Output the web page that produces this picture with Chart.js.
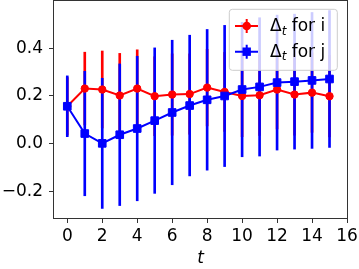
<!DOCTYPE html>
<html>
<head>
<meta charset="utf-8">
<script src="https://cdn.jsdelivr.net/npm/chart.js@4.4.0/dist/chart.umd.min.js"></script>
<style>
  html, body { margin: 0; padding: 0; background: #fff; }
  #wrap { width: 359px; height: 269px; }
</style>
</head>
<body>
<div id="wrap"><canvas id="chart" width="359" height="269"></canvas></div>
<script>
const steps = [0, 1, 2, 3, 4, 5, 6, 7, 8, 9, 10, 11, 12, 13, 14, 15];
const deltaI = [0.157, 0.231, 0.227, 0.202, 0.231, 0.199, 0.206, 0.208, 0.235, 0.217, 0.200, 0.203, 0.227, 0.206, 0.214, 0.199];
const errI = [0.120, 0.152, 0.161, 0.176, 0.162, 0.165, 0.170, 0.168, 0.160, 0.165, 0.170, 0.168, 0.165, 0.170, 0.166, 0.170];
const deltaJ = [0.157, 0.043, 0.002, 0.038, 0.064, 0.097, 0.131, 0.160, 0.184, 0.200, 0.227, 0.238, 0.256, 0.260, 0.265, 0.271];
const errJ = [0.127, 0.260, 0.272, 0.296, 0.302, 0.304, 0.302, 0.294, 0.294, 0.295, 0.281, 0.289, 0.282, 0.282, 0.284, 0.286];
const xTicks = [0, 2, 4, 6, 8, 10, 12, 14, 16];
const yTicks = [-0.2, 0.0, 0.2, 0.4];
const seriesNames = ["for i", "for j"];

const RED = "#ff0000";
const BLUE = "#0000ff";
const FONT = "DejaVu Sans";

const points = (vals) => steps.map((t, k) => ({ x: t, y: vals[k] }));
const errBars = (vals, errs) => steps.map((t, k) => ({ x: t, y: [vals[k] - errs[k], vals[k] + errs[k]] }));

// box around the plot area, like matplotlib spines
const frame = {
  id: "frame",
  afterDatasetsDraw(chart) {
    const { ctx, chartArea: a } = chart;
    ctx.save();
    ctx.strokeStyle = "#333";
    ctx.lineWidth = 1;
    const l = Math.round(a.left) - 0.5, t = Math.round(a.top) - 0.5;
    const r = Math.round(a.right) + 0.5, b = Math.round(a.bottom) + 0.5;
    ctx.strokeRect(l, t, r - l, b - t);
    ctx.restore();
  }
};

// legend inside the plot, upper right
const legendBox = {
  id: "legendBox",
  afterDraw(chart) {
    const { ctx, chartArea: a } = chart;
    const w = 108, h = 61;
    const x0 = a.right - 9.7 - w, y0 = a.top + 8.3;
    ctx.save();
    ctx.beginPath();
    ctx.roundRect(x0, y0, w, h, 3);
    ctx.fillStyle = "rgba(255,255,255,0.8)";
    ctx.fill();
    ctx.strokeStyle = "#cccccc";
    ctx.lineWidth = 1;
    ctx.stroke();

    const rows = [
      { name: seriesNames[0], color: RED, shape: "circle" },
      { name: seriesNames[1], color: BLUE, shape: "rect" }
    ];
    rows.forEach((row, k) => {
      const cy = y0 + 16.7 + k * 25.7;
      const mx = x0 + 17.4;
      ctx.strokeStyle = row.color;
      ctx.fillStyle = row.color;
      ctx.lineWidth = 2;
      ctx.beginPath();
      ctx.moveTo(x0 + 5.7, cy);
      ctx.lineTo(x0 + 28.7, cy);
      ctx.moveTo(mx, cy - 7);
      ctx.lineTo(mx, cy + 7);
      ctx.stroke();
      ctx.beginPath();
      if (row.shape === "circle") {
        ctx.arc(mx, cy, 4.3, 0, Math.PI * 2);
        ctx.fill();
      } else {
        ctx.fillRect(mx - 4.2, cy - 4.2, 8.4, 8.4);
      }

      let tx = x0 + 40.7;
      const base = cy + 5;
      ctx.fillStyle = "#000";
      ctx.textBaseline = "alphabetic";
      ctx.textAlign = "left";
      ctx.font = "17px '" + FONT + "'";
      ctx.fillText("\u0394", tx, base);
      tx += ctx.measureText("\u0394").width;
      ctx.font = "italic 12px '" + FONT + "'";
      ctx.fillText("t", tx, base + 3.5);
      tx += ctx.measureText("t").width;
      ctx.font = "17px '" + FONT + "'";
      ctx.fillText(" " + row.name, tx, base);
    });
    ctx.restore();
  }
};

const tickFont = { family: FONT, size: 17 };

new Chart(document.getElementById("chart"), {
  type: "line",
  data: {
    datasets: [
      {
        label: "\u0394t " + seriesNames[1],
        data: points(deltaJ),
        borderColor: BLUE,
        backgroundColor: BLUE,
        borderWidth: 2,
        pointStyle: "rect",
        pointRadius: 5.4,
        pointBorderWidth: 1,
        order: 0
      },
      {
        label: "\u0394t " + seriesNames[0],
        data: points(deltaI),
        borderColor: RED,
        backgroundColor: RED,
        borderWidth: 2,
        pointStyle: "circle",
        pointRadius: 3.7,
        pointBorderWidth: 1,
        order: 1
      },
      {
        type: "bar",
        data: errBars(deltaJ, errJ),
        backgroundColor: BLUE,
        barThickness: 2,
        grouped: false,
        order: 2
      },
      {
        type: "bar",
        data: errBars(deltaI, errI),
        backgroundColor: RED,
        barThickness: 2,
        grouped: false,
        order: 3
      }
    ]
  },
  options: {
    responsive: false,
    animation: false,
    devicePixelRatio: 1,
    layout: { autoPadding: false, padding: { top: 1, right: 12, left: 0, bottom: 0 } },
    plugins: {
      legend: { display: false },
      tooltip: { enabled: false }
    },
    scales: {
      x: {
        type: "linear",
        min: -0.76,
        max: 16,
        offset: false,
        afterBuildTicks: (s) => { s.ticks = xTicks.map((v) => ({ value: v })); },
        afterFit: (s) => { s.height = 51; s.paddingLeft = 0; s.paddingRight = 0; },
        grid: { drawOnChartArea: false, drawTicks: true, tickLength: 5, color: "#333", offset: false },
        border: { display: false },
        ticks: { color: "#000", font: tickFont, padding: 3, maxRotation: 0, autoSkip: false, callback: (v) => String(v) },
        title: { display: true, text: "t", color: "#000", font: { family: FONT, size: 17, style: "italic" }, padding: { top: 0, bottom: 0 } }
      },
      y: {
        type: "linear",
        min: -0.31,
        max: 0.597,
        afterBuildTicks: (s) => { s.ticks = yTicks.map((v) => ({ value: v })); },
        afterFit: (s) => { s.width = 54; s.paddingTop = 0; s.paddingBottom = 0; },
        grid: { drawOnChartArea: false, drawTicks: true, tickLength: 5, color: "#333" },
        border: { display: false },
        ticks: { color: "#000", font: tickFont, padding: 6, callback: (v) => v.toFixed(1).replace("-", "\u2212") }
      }
    }
  },
  plugins: [frame, legendBox]
});
</script>
</body>
</html>
